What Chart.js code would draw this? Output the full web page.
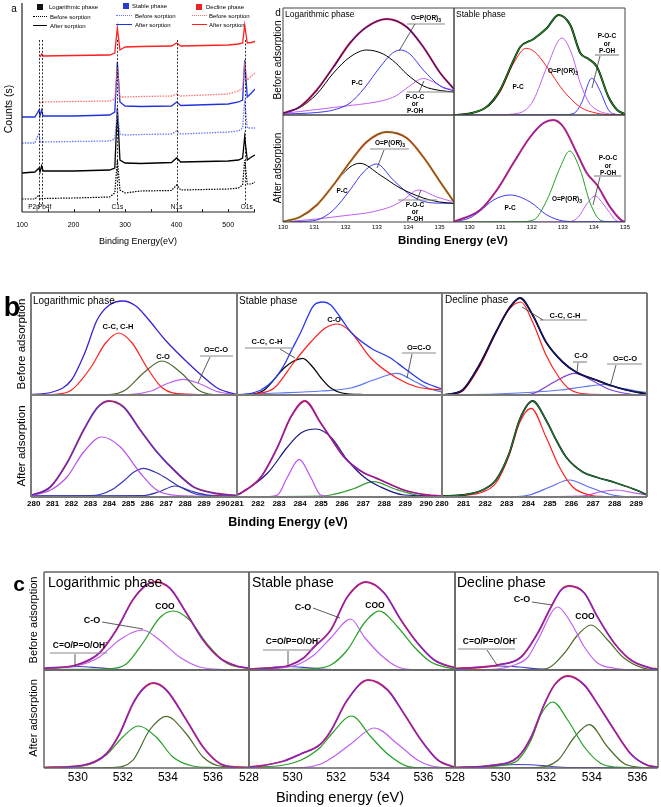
<!DOCTYPE html>
<html><head><meta charset="utf-8">
<script src="https://cdn.jsdelivr.net/npm/chart.js@4.4.1/dist/chart.umd.min.js"></script>
<style>
html,body{margin:0;padding:0;background:#fff;}
#root{position:relative;width:661px;height:807px;overflow:hidden;background:#fff;font-family:"Liberation Sans",Arial,sans-serif;color:#000;}
#root canvas{position:absolute;}
.t{position:absolute;white-space:nowrap;line-height:1;}
#ov{position:absolute;left:0;top:0;}
</style></head><body><div id="root"><svg id="ov" width="661" height="807"></svg></div>
<script>
// ---------- Panel a: survey spectra ----------
const aE = [100,125,133,135,138,141,200,270,280,285,290,300,330,390,400,408,500,520,528,532,537,545,552];
const aRedAfter   = [null,null,null,155,158,156,156.5,157,159,184,162,165,165.5,166,169,166,167,168,169,187,169,169.5,170.5];
const aRedBefore  = [null,null,null,109,110,110,110.5,111,113,144,115,115,115.5,116,118,116,118,121,124,147,132,136,139];
const aBlueAfter  = [95,95,102,96,102,96,96,97,100,150,110,106,105.5,106,110,106.5,108,110,112,152,115,119,123];
const aBlueBefore = [69,69,79,70,70,70,70.5,71,73,100,78,77,77.5,78,81,78,80,81,84,112,84,84,84];
const aBlackAfter = [39,40,44,40,46,41,41,42,44,104,52,49,48.5,49.5,54,50,51,52,54,75,52,55,57];
const aBlackBefore= [13,13,17,13,13.5,13.5,14,15,19,52,22,19,21,21.5,27,22,23,24,27,52,28,28,30];
const aPeakE = [133,138,285,400,532];
const aPeakLbl = ['P2p','Pb4f','C1s','N1s','O1s'];
const aMinorE = [150,200,250,300,350,400,450,500,550];

// ---------- Panel d: P 2p ----------
const d1Env = [[130,1.7],[130.54,8.3],[131.08,25],[131.61,48],[132.14,72],[132.67,88],[133.31,96],[133.95,88],[134.48,68],[135.02,42],[135.46,26]];
const d1PC  = [[130,1.7],[130.54,7.5],[131.08,21],[131.61,42],[132.14,58],[132.67,65],[133.2,61],[133.6,52],[133.95,41],[134.48,29],[135.02,24.5],[135.46,23]];
const d1OP  = [[130,1],[130.54,1.5],[131.08,2.5],[131.61,5],[132.14,12],[132.6,27],[133.1,48],[133.5,62],[133.75,65],[134.05,61],[134.48,45],[135.02,29],[135.46,24]];
const d1POC = [[130,1.7],[130.54,3.5],[131.08,5.5],[131.61,7.5],[132.14,9.5],[132.67,11.5],[133.2,14.5],[133.6,19],[134.0,28],[134.48,36.5],[134.8,33],[135.1,28],[135.46,25]];
const d2Env = [[129.5,0],[130,1.5],[130.5,7],[130.77,15],[131,26],[131.42,55],[131.63,68],[132.06,76],[132.49,87],[132.86,100],[133.24,90],[133.56,62],[133.83,56],[134.1,48],[134.47,18],[134.75,5],[135,1]];
const d2PC  = [[129.5,0],[130,1.5],[130.5,7],[130.77,14],[131,24],[131.42,52],[131.82,66.7],[132.1,63],[132.49,48],[133,25],[133.56,8],[134.1,1.7],[134.5,0.3],[135,0]];
const d2OP  = [[129.5,0],[131,0.3],[131.42,1],[131.8,5],[132.06,15],[132.49,48],[132.97,77],[133.3,60],[133.56,32],[133.85,12],[134.1,5],[134.5,1],[135,0]];
const d2POC = [[129.5,0],[133,0.2],[133.36,1.7],[133.6,12],[133.93,36.7],[134.2,24],[134.45,6],[134.6,1.5],[135,0]];
const d3Env = [[130,0.3],[130.54,5],[131.08,17],[131.61,37],[132.14,60],[132.67,80],[133.31,90],[133.95,84],[134.48,65],[135.02,40],[135.46,20]];
const d3PC  = [[130,0.3],[130.54,5],[131.08,17],[131.61,37],[132.14,55],[132.46,58.7],[133.1,47],[133.74,34],[134.48,24],[135,20],[135.46,18.7]];
const d3OP  = [[130,0],[130.54,0.5],[131.08,2],[131.61,12],[132.14,32],[132.57,50],[132.99,58],[133.52,42],[134.16,25],[134.8,19],[135.46,18.7]];
const d3POC = [[130,0.3],[130.54,1.5],[131.08,3],[131.61,5],[132.14,7],[132.67,9],[133.1,12],[133.5,16],[133.84,22],[134.32,32],[134.91,25],[135.46,20]];
const d4Env = [[129.5,0.3],[130.34,12],[130.88,32],[131.41,59],[131.95,85],[132.38,99],[132.7,102],[133.02,95],[133.45,69],[133.77,49],[134.1,37],[134.52,15],[134.95,0.5],[135,0.3]];
const d4PC  = [[129.5,0.3],[130,4],[130.34,11],[130.77,22],[131.31,27],[131.95,20],[132.49,7],[133.02,1],[133.5,0.3],[135,0.3]];
const d4OP  = [[129.5,0],[131.6,0.3],[132.06,2],[132.49,22],[132.92,55],[133.22,71],[133.56,52],[133.88,19],[134.2,2],[134.5,0.3],[135,0]];
const d4POC = [[129.5,0],[133.2,0.3],[133.5,5],[133.77,18],[134.04,26],[134.3,18],[134.47,11],[134.74,1],[135,0]];

// ---------- Panel b: C 1s ----------
const b1Env = [[279.86,0.5],[281,3],[282,15],[282.7,42],[283.35,75],[284,90],[284.72,94],[285.4,89],[286,77],[287,54],[288.1,33],[289.15,15],[289.7,7],[290.6,1],[290.74,0.5]];
const b1CC  = [[279.86,0],[281,0.5],[282,5],[283,27],[283.8,52],[284.5,62],[285.2,52],[286,27],[286.8,7],[288,1],[290.74,0]];
const b1CO  = [[279.86,0],[284,0.5],[284.85,5],[285.8,22],[286.78,34],[287.8,22],[288.7,5],[289.5,0.5],[290.74,0]];
const b1OCO = [[279.86,0],[285,0.5],[286.2,4],[287,11],[287.9,15.7],[288.8,11],[289.6,4],[290.6,0.5],[290.74,0.3]];
const b2Env = [[281,0],[281.5,1],[282.14,5],[282.7,14],[283.24,30],[283.6,45],[284.04,63],[284.67,90],[285.1,93],[285.46,90],[285.9,78],[286.41,63],[287.36,47],[288.3,37],[288.94,27],[289.88,13],[290.75,6]];
const b2CO  = [[281,0],[282,1.5],[282.77,7],[283.72,33],[284.51,53],[285.2,67],[285.8,71],[286.41,63],[287.36,37],[288.6,17],[289.57,8],[290.75,5]];
const b2CC  = [[281,0],[281.8,1],[282.3,5],[283.24,27],[283.7,34],[284.12,36.7],[284.6,28],[285,17],[285.46,7],[286,2],[287,0.5],[290.75,0]];
const b2OCO = [[281,0.5],[283,2],[285,4],[286.4,7],[287.5,15],[288.6,21.7],[289.5,13],[290.2,6],[290.75,3]];
const b3Env = [[280,0],[280.5,1.5],[280.96,5],[281.73,30],[282.5,63],[283.12,87],[283.62,97],[284.2,80],[284.82,53],[285.59,33],[286.21,23],[287.14,15],[287.76,10],[288.53,5],[289.5,1]];
const b3CC  = [[280,0],[280.5,1],[280.96,4],[281.73,28],[282.5,62],[283.12,86],[283.66,93],[284.2,73],[284.82,40],[285.44,17],[285.9,6],[286.7,1],[289.5,0]];
const b3CO  = [[280,0],[284,0.5],[284.4,3],[285.2,13],[286.14,21.7],[287,14],[287.7,6],[288.7,1],[289.5,0]];
const b3OCO = [[280,0],[282.5,1],[284,2.5],[285.5,5],[286.5,8],[287.5,10.5],[288.3,7],[289,4],[289.5,2.5]];
const b4Env = [[279.86,1.5],[280.88,10],[281.76,34],[282.64,67],[283.35,89],[283.96,96],[284.75,90],[285.63,67],[286.51,45],[287.57,24],[288.45,10],[289.5,4],[290.39,2],[290.74,1.5]];
const b4CC  = [[279.86,1.5],[280.9,7],[281.76,20],[282.64,45],[283.6,60],[284.58,50],[285.63,24],[286.5,7],[287.6,1.5],[290.74,0.5]];
const b4CO  = [[279.86,1],[283,1.5],[283.5,2.5],[284.2,8],[284.75,16],[285.3,25],[285.8,28.7],[286.4,25],[286.9,20],[287.75,10],[288.8,2],[290.74,1]];
const b4OCO = [[279.86,1],[285.8,1.5],[286.6,5],[287.48,11],[288.3,6],[289.2,2],[290.74,1]];
const b5Env = [[281,2],[281.19,4],[282.14,20],[282.93,50],[283.56,80],[284.23,96],[284.98,74],[285.46,59],[286.09,40],[287.04,24],[287.5,20],[287.83,17],[288.94,7],[290.05,2],[290.75,1]];
const b5CO  = [[281,2],[281.19,4],[282.46,24],[283.4,50],[284.04,64],[284.75,68],[285.46,60],[286.25,37],[287.04,20],[287.83,10],[288.94,2],[290.75,1]];
const b5CC  = [[281,0],[282.5,0.5],[282.93,2],[283.4,20],[283.96,37.7],[284.5,20],[284.98,2],[285.5,0.5],[290.75,0]];
const b5OCO = [[281,0.5],[285,1],[285.46,2],[286.5,8],[287.5,15.3],[288.5,8],[289.57,2],[290.75,0.5]];
const b6Env = [[280,1],[280.96,2],[281.88,7],[282.5,17],[283.12,44],[283.59,77],[284.2,96],[284.82,77],[285.29,57],[285.75,40],[286.52,25],[287.14,20],[288.07,14],[289,7],[289.5,2]];
const b6CC  = [[280,0.5],[280.96,1.5],[281.88,5],[282.5,14],[283.12,42],[283.59,74],[284.13,88.7],[284.82,60],[285.44,30],[286.06,10],[286.83,2],[287.5,0.5],[289.5,0]];
const b6CO  = [[280,0],[283.5,0.5],[284.05,2],[285,10],[285.9,17],[286.8,10],[287.91,2],[288.5,0.5],[289.5,0]];
const b6OCO = [[280,0],[286.5,1],[287.3,5],[288.07,7],[288.8,4.5],[289.5,2]];

// ---------- Panel c: O 1s ----------
const c1Env = [[528.5,1.7],[529.93,5],[530.96,17],[531.71,40],[532.44,70],[533.04,85],[533.41,88],[534.08,82],[534.82,57],[535.56,30],[536.3,12],[537.04,4],[537.6,1.7]];
const c1COO = [[528.5,0.5],[531.5,1.5],[532.15,6],[532.89,27],[533.63,52],[534.22,59],[534.96,50],[535.71,27],[536.6,7],[537.6,1.5]];
const c1CO  = [[528.5,1.5],[529.93,4],[530.96,13],[531.85,30],[532.89,40],[533.63,30],[534.52,13],[535.41,3],[536.5,0.5],[537.6,0]];
const c1OH  = [[528.5,1],[529.3,2.5],[530,3.5],[530.8,2.5],[531.5,1],[532.5,0.3],[537.6,0]];
const c2Env = [[528,1],[529,2],[529.83,4.5],[530.5,12],[530.98,23],[531.75,40],[532.51,73],[533.36,88],[534.2,77],[534.97,50],[535.73,27],[536.5,10],[537.26,3.3],[537.45,2.5]];
const c2CO  = [[528,0.5],[529.5,2],[530.3,6],[530.98,15],[531.75,32],[532.67,51],[533.29,33],[534.05,15],[534.8,3.3],[535.5,0.5],[537.45,0]];
const c2COO = [[528,0.3],[531,1.5],[531.75,5],[532.51,20],[533.29,47],[533.98,59],[534.82,43],[535.58,23],[536.34,8],[537.26,1.7],[537.45,1]];
const c2OH  = [[528,1],[529,2.5],[529.8,3.5],[530.6,2.5],[531.3,1],[532.5,0.3],[537.45,0]];
const c3Env = [[528,1.5],[529,2.5],[529.89,5],[530.9,13],[531.63,37],[532.21,63],[532.65,80],[533.01,84],[533.67,77],[534.25,53],[534.98,27],[535.71,10],[536.58,2],[536.9,1]];
const c3CO  = [[528,0],[529.5,0.5],[530.61,5],[531.2,13],[531.63,30],[532.51,63],[533.09,47],[533.67,23],[534.25,7],[534.98,1.7],[535.7,0.3],[536.9,0]];
const c3COO = [[528,0],[531.5,0.3],[532.07,1.7],[532.8,17],[533.38,35],[533.96,45],[534.69,30],[535.41,12],[536.29,1.7],[536.9,0.3]];
const c3OH  = [[528,1.5],[529,3],[529.9,4],[530.8,3],[531.5,1.5],[532.2,0.5],[536.9,0]];
const c4Env = [[528.5,0.5],[530.22,2.7],[531.26,14],[531.85,34],[532.44,64],[532.89,79],[533.36,85],[533.93,78],[534.82,48],[535.56,21],[536.3,4.5],[537,1],[537.6,0.5]];
const c4Low = [[528.5,0.5],[530.22,2],[531.26,13],[532,31],[532.67,42],[533.48,31],[534.22,11],[535.1,2],[536,0.5],[537.6,0]];
const c4High= [[528.5,0],[531.5,0.5],[532.44,7.7],[533.19,38],[533.93,51.7],[534.82,34],[535.56,11],[536.3,2],[537.6,0.3]];
const c5Env = [[528,1],[528.5,2],[529.6,7],[530.37,14],[531.29,24],[531.75,37],[532.51,68],[533.47,88],[534.36,78],[535.12,54],[535.89,28],[536.66,8],[537.45,0.5]];
const c5Low = [[528,0.5],[529.6,3],[530.37,7.7],[531.29,21],[531.75,33],[532.71,52],[533.6,31],[534.36,14],[535.27,1.7],[536,0.3],[537.45,0]];
const c5High= [[528,0],[530.5,0.5],[531.29,4],[531.75,9.5],[532.67,24],[533.75,40],[534.82,24],[535.73,8],[536.5,1.5],[537.45,0.3]];
const c6Env = [[528,0.5],[529.59,2.7],[530.76,11],[531.34,31],[531.92,64],[532.36,83],[532.94,92],[533.67,83],[534.25,64],[534.98,38],[535.71,14],[536.44,2.7],[536.9,1]];
const c6Low = [[528,0.3],[529.5,1.5],[530.2,3],[530.76,8],[531.34,28],[531.78,54],[532.29,66],[532.94,48],[533.67,21],[534.4,4.4],[535,1],[536.9,0]];
const c6High= [[528,0],[531.5,0.5],[532.51,7.7],[533.24,31],[533.89,43.4],[534.69,21],[535.41,4.4],[536,1],[536.9,0.2]];
const c6OH  = [[528,0.5],[529.5,2],[530.8,3.5],[531.8,2.5],[532.5,1],[533.5,0.3],[536.9,0]];

// ---------- drawing ----------
const root = document.getElementById('root');
const ov = document.getElementById('ov');
const FONT = '"Liberation Sans", Arial, sans-serif';
const P = 20;
const RED='#ff1e1e', NAVY='#22189a', BLUE='#3a3af5', PURPLE='#6a2ae0', MAG='#c060f2', GREEN='#24a024', OLIVE='#4d6b2d', LBLUE='#5a78f0', NAVY2='#4040c0';

Chart.register({
  id:'deco',
  afterDatasetsDraw(c, a, o){
    const g=c.ctx, A=c.chartArea, xs=c.scales.x;
    g.save();
    if (o.vl) {
      g.strokeStyle='#000'; g.lineWidth=0.8; g.setLineDash([2,1.6]);
      o.vl.forEach(v=>{const px=Math.round(xs.getPixelForValue(v))+0.5; g.beginPath(); g.moveTo(px,A.top+o.vlTop); g.lineTo(px,A.bottom-o.vlBot); g.stroke();});
      g.setLineDash([]);
    }
    if (o.mt) {
      g.strokeStyle='#222'; g.lineWidth=1;
      o.mt.forEach(v=>{const px=Math.round(xs.getPixelForValue(v))+0.5; g.beginPath(); g.moveTo(px,A.bottom); g.lineTo(px,A.bottom-3); g.stroke();});
    }
    if (o.frame) {
      const f=o.frame; g.strokeStyle=f.color; g.lineWidth=f.width; g.setLineDash([]);
      const s=f.sides||'ltrb'; g.beginPath();
      if (s.includes('l')) {g.moveTo(A.left,A.top); g.lineTo(A.left,A.bottom);}
      if (s.includes('b')) {g.moveTo(A.left,A.bottom); g.lineTo(A.right,A.bottom);}
      if (s.includes('t')) {g.moveTo(A.left,A.top); g.lineTo(A.right,A.top);}
      if (s.includes('r')) {g.moveTo(A.right,A.top); g.lineTo(A.right,A.bottom);}
      g.stroke();
    }
    g.restore();
  }
});

function mk(c){
  const [x,y,w,h]=c.box;
  const th=c.ticks?c.tickH:0;
  const cv=document.createElement('canvas');
  const W=w+2*P, H=h+2*P+th;
  cv.width=W; cv.height=H;
  cv.style.left=(x-P)+'px'; cv.style.top=(y-P)+'px';
  cv.style.width=W+'px'; cv.style.height=H+'px';
  root.insertBefore(cv, ov);
  const ds=c.series.map(s=>({
    data: s[0].map(p=>({x:p[0],y:p[1]})),
    borderColor:s[1], borderWidth:s[2]||1.1, borderDash:s[3]||[],
    pointRadius:0, fill:false, spanGaps:false,
    tension: c.linear?0:0.4, cubicInterpolationMode: c.linear?'default':'monotone'
  })).reverse();   // first dataset is drawn on top in Chart.js
  const ch=new Chart(cv,{type:'line',data:{datasets:ds},options:{
    responsive:false, animation:false, devicePixelRatio:1, events:[],
    layout:{padding:P},
    plugins:{legend:{display:false},tooltip:{enabled:false},deco:Object.assign({frame:c.frame},c.deco||{})},
    scales:{
      x:{type:'linear',min:c.xr[0],max:c.xr[1],display:!!c.ticks,
         grid:{display:false,drawTicks:false},border:{display:false},
         ticks:{stepSize:c.step||1,includeBounds:false,autoSkip:false,maxRotation:0,minRotation:0,
                padding:c.tpad||2,color:'#000',
                font:{family:FONT,size:c.tsize||8,weight:c.tbold?'bold':'normal'},
                callback:v=>String(Math.round(v))},
         afterFit(s){s.height=th;}},
      y:{display:false,min:0,max:c.ymax}
    }}});
  ch._ox=x-P; ch._oy=y-P;
  return ch;
}
const S=(d,col,w,dash)=>[d,col,w,dash];
const env2=(d,c1,c2,w1,w2)=>[S(d,c1,w1||2.2),S(d,c2,w2||1.2)];
const pairs=(xs,ys)=>xs.map((v,i)=>[v,ys[i]]);

function T(txt,x,y,size,o){
  o=o||{};
  const d=document.createElement('div'); d.className='t';
  d.innerHTML=txt; d.style.left=x+'px'; d.style.top=y+'px'; d.style.fontSize=size+'px';
  if(o.b) d.style.fontWeight='bold';
  if(o.c) d.style.color=o.c;
  let tr=o.a==='l'?'translate(0,-50%)':'translate(-50%,-50%)';
  if(o.r) tr+=' rotate(-90deg)';
  d.style.transform=tr;
  root.appendChild(d);
}
function L(x1,y1,x2,y2,col,w){
  const l=document.createElementNS('http://www.w3.org/2000/svg','line');
  l.setAttribute('x1',x1);l.setAttribute('y1',y1);l.setAttribute('x2',x2);l.setAttribute('y2',y2);
  l.setAttribute('stroke',col||'#333');l.setAttribute('stroke-width',w||0.8);
  ov.appendChild(l);
}
function B(x,y,w,h,col,style){
  const d=document.createElement('div');
  d.style.cssText=`position:absolute;left:${x}px;top:${y}px;width:${w}px;height:${h}px;`+style;
  if(col) d.style.background=col;
  root.appendChild(d);
}

// ----- panel a -----
const chA=mk({box:[22,3,233,209],xr:[100,552],ymax:209,linear:true,ticks:true,step:100,tickH:22,tsize:7,tpad:9,
  frame:{color:'#222',width:1.2,sides:'lb'},
  deco:{vl:aPeakE,vlTop:37,vlBot:7,mt:aMinorE},
  series:[
    S(pairs(aE,aBlackBefore),'#000',1.2,[1.5,1.2]),
    S(pairs(aE,aBlackAfter),'#000',1.3),
    S(pairs(aE,aBlueBefore),'#6a7aff',1.3,[1.5,1.2]),
    S(pairs(aE,aBlueAfter),'#2233dd',1.3),
    S(pairs(aE,aRedBefore),'#ff7070',1.3,[1.5,1.2]),
    S(pairs(aE,aRedAfter),'#ff2020',1.3)
  ]});
const aDx=[-5,3,0,0,2];
aPeakE.forEach((e,i)=>T(aPeakLbl[i],chA._ox+chA.scales.x.getPixelForValue(e)+aDx[i],207,6.5));
T('a',14,9,10);
T('Counts (s)',8,109,10.5,{r:1});
T('Binding Energy(eV)',138,241,9);
// legend
B(37,4,6,6,'#111','');      T('Logarithmic phase',49,7,6,{a:'l'});
B(33,16,14,0,null,'border-top:1.5px dotted #000;'); T('Before sorption',50,16.5,6,{a:'l'});
B(33,25,14,0,null,'border-top:1.5px solid #000;');  T('After sorption',50,25.5,6,{a:'l'});
B(123,3,6,6,'#2a3ad0','');  T('Stable phase',132,6,6,{a:'l'});
B(116,15,16,0,null,'border-top:1.5px dotted #6a7aff;'); T('Before sorption',135,15.5,6,{a:'l'});
B(116,24,16,0,null,'border-top:1.5px solid #2233dd;');  T('After sorption',135,24.5,6,{a:'l'});
B(196,4,6,6,'#ee2222','');  T('Decline phase',206,7,6,{a:'l'});
B(192,15,15,0,null,'border-top:1.5px dotted #ff7070;'); T('Before sorption',209,15.5,6,{a:'l'});
B(192,24,15,0,null,'border-top:1.5px solid #ff2020;');  T('After sorption',209,24.5,6,{a:'l'});

// ----- panel d -----
const FD={color:'#444',width:1};
mk({box:[283,8,171,107],xr:[130,135.46],ymax:107,frame:FD,
  series:[S(d1POC,MAG,1),S(d1OP,BLUE,1),S(d1PC,'#000',1),...env2(d1Env,RED,NAVY,2,1.1)]});
mk({box:[454,8,171,107],xr:[129.5,135],ymax:107,frame:FD,
  series:[S(d2POC,BLUE,1),S(d2OP,MAG,1),S(d2PC,RED,1),...env2(d2Env,'#000','#1f8f1f',2,1.1)]});
mk({box:[283,115,171,107],xr:[130,135.46],ymax:107,frame:FD,ticks:true,step:1,tickH:10,tsize:6,tpad:2,
  series:[S(d3POC,MAG,1),S(d3OP,BLUE,1),S(d3PC,'#000',1),S(d3Env,'#f2eea8',2.6),S(d3Env,RED,1.8),S(d3Env,'#2a8a2a',1)]});
mk({box:[454,115,171,107],xr:[129.5,135],ymax:107,frame:FD,ticks:true,step:1,tickH:10,tsize:6,tpad:2,
  series:[S(d4POC,MAG,1),S(d4OP,GREEN,1),S(d4PC,BLUE,1),...env2(d4Env,RED,PURPLE,2,1.1)]});
T('d',278,13,10);
T('Before adsorption',278,60,10,{r:1});
T('After adsorption',278,168,10,{r:1});
T('Logarithmic phase',285,14,8.5,{a:'l'});
T('Stable phase',456,14,8.5,{a:'l'});
T('Binding Energy (eV)',453,241,11.5,{b:1});
const dl=6.5, GR='#8a8a8a';
T('O=P(OR)<sub style="font-size:5px">3</sub>',426,19,dl,{b:1}); L(407,24,445,24,GR,1.2); L(415,24,399,51);
T('P-C',357,83,dl,{b:1});
T('P-O-C',415,97,dl,{b:1}); T('or',415,104,dl,{b:1}); T('P-OH',415,111,dl,{b:1}); L(407,92,453,92,GR,1.2); L(419,92,424,81);
T('P-O-C',607,36,dl,{b:1}); T('or',607,44,dl,{b:1}); T('P-OH',607,51,dl,{b:1}); L(595,55,619,55,GR,1.2); L(600,56,592,88);
T('O=P(OR)<sub style="font-size:5px">3</sub>',563,72,dl,{b:1});
T('P-C',518,87,dl,{b:1});
T('O=P(OR)<sub style="font-size:5px">3</sub>',390,144,dl,{b:1}); L(370,149,409,149,GR,1.2); L(384,150,377,168);
T('P-C',342,191,dl,{b:1});
T('P-O-C',415,205,dl,{b:1}); T('or',415,212,dl,{b:1}); T('P-OH',415,219,dl,{b:1}); L(398,200,437,200,GR,1.2); L(417,200,421,190);
T('P-O-C',608,158,dl,{b:1}); T('or',608,166,dl,{b:1}); T('P-OH',608,173,dl,{b:1}); L(594,176,621,176,GR,1.2); L(600,177,593,205);
T('O=P(OR)<sub style="font-size:5px">3</sub>',567,200,dl,{b:1});
T('P-C',510,208,dl,{b:1});

// ----- panel b -----
const FB={color:'#7a7a7a',width:2};
const bT={ticks:true,step:1,tickH:12,tsize:8,tbold:1,tpad:2};
mk({box:[31,293,206,102],xr:[279.86,290.74],ymax:102,frame:FB,
  series:[S(b1OCO,MAG,1.2),S(b1CO,OLIVE,1.2),S(b1CC,RED,1.2),S(b1Env,'#3a22d0',1.3)]});
mk({box:[237,293,205,102],xr:[281,290.75],ymax:102,frame:FB,
  series:[S(b2OCO,LBLUE,1.2),S(b2CC,'#000',1.2),S(b2CO,RED,1.2),S(b2Env,'#2a3aee',1.3)]});
mk({box:[442,293,205,102],xr:[280,289.5],ymax:102,frame:FB,
  series:[S(b3OCO,LBLUE,1.2),S(b3CO,'#7b3fe0',1.2),S(b3CC,RED,1.2),...env2(b3Env,'#000','#15157a',1.8,1.2)]});
mk(Object.assign({box:[31,395,206,102],xr:[279.86,290.74],ymax:102,frame:FB,
  series:[S(b4OCO,'#3535b0',1.2),S(b4CO,'#3535b0',1.2),S(b4CC,'#b850f0',1.2),...env2(b4Env,RED,'#3a3ae0',1.8,1.2)]},bT));
mk(Object.assign({box:[237,395,205,102],xr:[281,290.75],ymax:102,frame:FB,
  series:[S(b5OCO,'#30a030',1.2),S(b5CC,'#c050f0',1.2),S(b5CO,'#1a1a80',1.2),...env2(b5Env,RED,'#7020d0',1.8,1.2)]},bT));
mk(Object.assign({box:[442,395,205,102],xr:[280,289.5],ymax:102,frame:FB,
  series:[S(b6OCO,'#bb55ee',1.2),S(b6CO,'#5a6aee',1.2),S(b6CC,RED,1.2),...env2(b6Env,'#111','#1e7a32',1.8,1.2)]},bT));
T('b',12,307,27,{b:1});
T('Before adsorption',22,344,11.5,{r:1});
T('After adsorption',22,446,11.5,{r:1});
T('Logarithmic phase',33,300.5,10,{a:'l'});
T('Stable phase',239,300.5,10,{a:'l'});
T('Decline phase',445,299.5,10,{a:'l'});
const bl=7.5;
T('C-C, C-H',118,327,bl,{b:1});
T('C-O',163,357,bl,{b:1});
T('O=C-O',216,350,bl,{b:1}); L(200,356,233,356,GR,1.2); L(210,357,198,383);
T('C-C, C-H',267,342,bl,{b:1}); L(245,348,293,348,GR,1.2); L(280,349,295,358);
T('C-O',334,320,bl,{b:1});
T('O=C-O',419,348,bl,{b:1}); L(402,353,436,353,GR,1.2); L(412,354,407,378);
T('C-C, C-H',565,316,bl,{b:1}); L(540,320,587,320,GR,1.2); L(543,320,522,307);
T('C-O',581,356,bl,{b:1}); L(573,362,587,362,GR,1.2); L(578,363,577,372);
T('O=C-O',625,359,bl,{b:1}); L(607,364,642,364,GR,1.2); L(616,365,610,387);
T('Binding Energy (eV)',288,522,12.5,{b:1});

// ----- panel c -----
const FC={color:'#666',width:1.5};
const cT={ticks:true,step:2,tickH:16,tsize:12,tpad:2};
mk({box:[44,572,205,98],xr:[528.5,537.6],ymax:98,frame:FC,
  series:[S(c1OH,NAVY2,1.2),S(c1CO,MAG,1.2),S(c1COO,GREEN,1.2),...env2(c1Env,RED,PURPLE,1.8,1.2)]});
mk({box:[249,572,206,98],xr:[528,537.45],ymax:98,frame:FC,
  series:[S(c2OH,NAVY2,1.2),S(c2CO,MAG,1.2),S(c2COO,GREEN,1.2),...env2(c2Env,RED,PURPLE,1.8,1.2)]});
mk({box:[455,572,203,98],xr:[528,536.9],ymax:98,frame:FC,
  series:[S(c3OH,NAVY2,1.2),S(c3COO,OLIVE,1.2),S(c3CO,MAG,1.2),...env2(c3Env,RED,PURPLE,1.8,1.2)]});
mk(Object.assign({box:[44,670,205,98],xr:[528.5,537.6],ymax:98,frame:FC,
  series:[S(c4High,OLIVE,1.2),S(c4Low,GREEN,1.2),...env2(c4Env,RED,PURPLE,1.8,1.2)]},cT));
mk(Object.assign({box:[249,670,206,98],xr:[528,537.45],ymax:98,frame:FC,
  series:[S(c5High,MAG,1.2),S(c5Low,GREEN,1.2),...env2(c5Env,RED,PURPLE,1.8,1.2)]},cT));
mk(Object.assign({box:[455,670,203,98],xr:[528,536.9],ymax:98,frame:FC,
  series:[S(c6OH,NAVY2,1.2),S(c6High,OLIVE,1.2),S(c6Low,GREEN,1.2),...env2(c6Env,RED,PURPLE,1.8,1.2)]},cT));
T('c',19,583,21,{b:1});
T('Before adsorption',33,620,11,{r:1});
T('After adsorption',33,718,11,{r:1});
T('Logarithmic phase',48,582,14,{a:'l'});
T('Stable phase',252,582,14,{a:'l'});
T('Decline phase',457,582,14,{a:'l'});
const cl=8.5, OHm='C=O/P=O/OH<sup style="font-size:6px">-</sup>';
T('COO',165,606,cl,{b:1});
T('C-O',92,620,9,{b:1}); L(102,622,143,629);
T(OHm,80,644,cl,{b:1}); L(50,653,107,653,GR,1.2); L(75,654,75,667);
T('C-O',303,607,9,{b:1}); L(313,608,340,618);
T('COO',375,605,cl,{b:1});
T(OHm,293,640,cl,{b:1}); L(263,650,313,650,GR,1.2); L(288,651,288,666);
T('C-O',522,599,9,{b:1}); L(532,602,552,605);
T('COO',585,616,cl,{b:1});
T(OHm,490,640,cl,{b:1}); L(458,649,515,649,GR,1.2); L(487,650,497,665);
T('Binding energy (eV)',340,797,14.5);
</script></body></html>
